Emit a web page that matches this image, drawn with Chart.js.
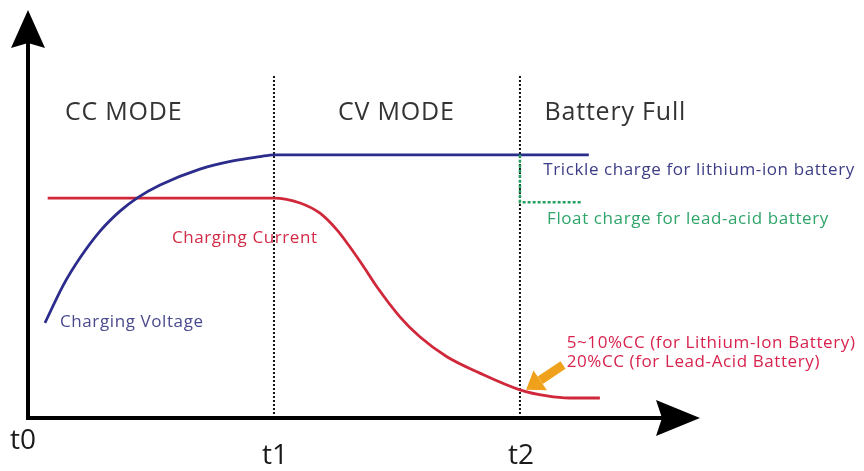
<!DOCTYPE html>
<html>
<head>
<meta charset="utf-8">
<script src="https://cdn.jsdelivr.net/npm/chart.js"></script>
<style>
  html, body { margin: 0; padding: 0; background: #fff; }
  #wrap { width: 864px; height: 471px; }
</style>
</head>
<body>
<div id="wrap"><canvas id="charging" width="864" height="471"></canvas></div>
<script>
// ============[ data, time in t1 = 10 units, level 0-100 ]============
const voltageX = [0.69, 1.42, 2.11, 2.93, 3.74, 4.43, 5.37, 6.99, 8.33, 9.43, 10, 22.8];
const voltageY = [23.3, 32.4, 39.2, 45.8, 50.7, 53.9, 57.1, 61.0, 63.0, 64.05, 64.5, 64.5];

const currentX = [0.8, 10, 11.06, 11.87, 12.56, 13.09, 13.62, 14.19, 15.12, 15.93, 17.03, 18.37, 20, 21.1, 22.03, 23.25];
const currentY = [53.9, 53.9, 52.7, 50.2, 46.1, 41.9, 37.3, 32.1, 24.8, 19.9, 15.0, 11.0, 6.9, 5.4, 4.9, 4.9];

const floatX = [20, 20, 22.5];
const floatY = [64.5, 52.9, 52.9];

const markerTimes = [0, 10, 20];
const markerNames = ['t0', 't1', 't2'];
const markerTop = 84;

const modeNames = ['CC MODE', 'CV MODE', 'Battery Full'];
const noteTexts = [
    'Charging Current',
    'Charging Voltage',
    'Trickle charge for lithium-ion battery',
    'Float charge for lead-acid battery',
    '5~10%CC (for Lithium-Ion Battery)',
    '20%CC (for Lead-Acid Battery)'
];

// =============[ build the pairs for chart.js ]=============
const pts = (xs, ys) => xs.map((x, i) => ({ x: x, y: ys[i] }));

const markerSets = markerTimes.slice(1).map(t => ({
    data: [{ x: t, y: 0 }, { x: t, y: markerTop }],
    borderColor: '#111',
    borderWidth: 2,
    borderDash: [2, 2],
    pointRadius: 0,
    order: 10
}));

// where annotations sit (data units) and how they look
const modePos = [[1.5, 74.8], [12.6, 74.8], [21.0, 74.8]];
const notePos = [[5.85, 44.0], [1.3, 23.6], [20.95, 60.8], [21.1, 48.8], [21.9, 18.3], [21.9, 13.6]];
const noteColors = ['#d12a45', '#4a4a8e', '#3d3d86', '#2fa56a', '#d8234e', '#d8234e'];

// ==============[ plugin: axes with arrows + texts ]==============
const drawing = {
    id: 'drawing',
    afterDatasetsDraw(chart) {
        const ctx = chart.ctx;
        const xs = chart.scales.x, ys = chart.scales.y;
        const X = v => xs.getPixelForValue(v);
        const Y = v => ys.getPixelForValue(v);
        const x0 = X(0), y0 = Y(0);
        const xEnd = X(xs.max), yEnd = Y(ys.max);

        ctx.save();
        ctx.fillStyle = '#000';
        ctx.strokeStyle = '#000';
        ctx.lineWidth = 4;
        ctx.lineCap = 'butt';
        ctx.beginPath();
        ctx.moveTo(x0, y0 + 2);
        ctx.lineTo(x0, yEnd + 30);
        ctx.moveTo(x0 - 2, y0);
        ctx.lineTo(xEnd - 30, y0);
        ctx.stroke();

        // arrow heads
        ctx.beginPath();
        ctx.moveTo(x0, yEnd);
        ctx.lineTo(x0 + 17, yEnd + 38);
        ctx.lineTo(x0, yEnd + 33);
        ctx.lineTo(x0 - 17, yEnd + 38);
        ctx.closePath();
        ctx.fill();
        ctx.beginPath();
        ctx.moveTo(xEnd, y0);
        ctx.lineTo(xEnd - 44, y0 - 18);
        ctx.lineTo(xEnd - 38, y0);
        ctx.lineTo(xEnd - 44, y0 + 18);
        ctx.closePath();
        ctx.fill();

        // tick names
        ctx.font = '28px "Open Sans"';
        ctx.fillStyle = '#1a1a1a';
        ctx.textAlign = 'center';
        ctx.textBaseline = 'middle';
        markerTimes.forEach((t, i) => {
            const dx = i === 0 ? -5 : 1;
            const dy = i === 0 ? 23 : 38;
            ctx.fillText(markerNames[i], X(t) + dx, y0 + dy);
        });

        // mode titles
        ctx.textAlign = 'left';
        ctx.font = '25px "Open Sans"';
        ctx.letterSpacing = '0.8px';
        ctx.fillStyle = '#333';
        modeNames.forEach((s, i) => ctx.fillText(s, X(modePos[i][0]), Y(modePos[i][1])));

        // notes
        ctx.font = '17px "Open Sans"';
        ctx.letterSpacing = '0.6px';
        noteTexts.forEach((s, i) => {
            ctx.fillStyle = noteColors[i];
            ctx.fillText(s, X(notePos[i][0]), Y(notePos[i][1]));
        });
        ctx.letterSpacing = '0px';

        // orange arrow pointing at the current at t2
        const tipX = X(20.25), tipY = Y(6.9);
        const tailX = X(21.75), tailY = Y(13.0);
        const ang = Math.atan2(tipY - tailY, tipX - tailX);
        const baseX = tipX - 17 * Math.cos(ang), baseY = tipY - 17 * Math.sin(ang);
        ctx.strokeStyle = '#f0a11c';
        ctx.fillStyle = '#f0a11c';
        ctx.lineWidth = 9;
        ctx.beginPath();
        ctx.moveTo(tailX, tailY);
        ctx.lineTo(baseX, baseY);
        ctx.stroke();
        ctx.beginPath();
        ctx.moveTo(tipX, tipY);
        ctx.lineTo(baseX + 12 * Math.sin(ang), baseY - 12 * Math.cos(ang));
        ctx.lineTo(baseX - 12 * Math.sin(ang), baseY + 12 * Math.cos(ang));
        ctx.closePath();
        ctx.fill();
        ctx.restore();
    }
};

const chargeChart = new Chart(document.getElementById('charging'), {
    type: 'line',
    data: {
        datasets: [
            ...markerSets,
            {
                label: 'Float charge',
                data: pts(floatX, floatY),
                borderColor: '#24a060',
                borderWidth: 2.5,
                borderDash: [3, 2],
                pointRadius: 0,
                order: 0
            },
            {
                label: 'Charging Voltage',
                data: pts(voltageX, voltageY),
                borderColor: '#2c2c8c',
                borderWidth: 2.8,
                cubicInterpolationMode: 'monotone',
                pointRadius: 0,
                order: 1
            },
            {
                label: 'Charging Current',
                data: pts(currentX, currentY),
                borderColor: '#d0283a',
                borderWidth: 2.8,
                cubicInterpolationMode: 'monotone',
                pointRadius: 0,
                order: 1
            }
        ]
    },
    options: {
        responsive: false,
        animation: false,
        devicePixelRatio: 1,
        layout: { padding: { left: 28, right: 164, top: 10, bottom: 53 } },
        plugins: { legend: { display: false }, tooltip: { enabled: false } },
        scales: {
            x: { type: 'linear', min: 0, max: 27.32, display: false },
            y: { type: 'linear', min: 0, max: 100, display: false }
        }
    },
    plugins: [drawing]
});
</script>
</body>
</html>
